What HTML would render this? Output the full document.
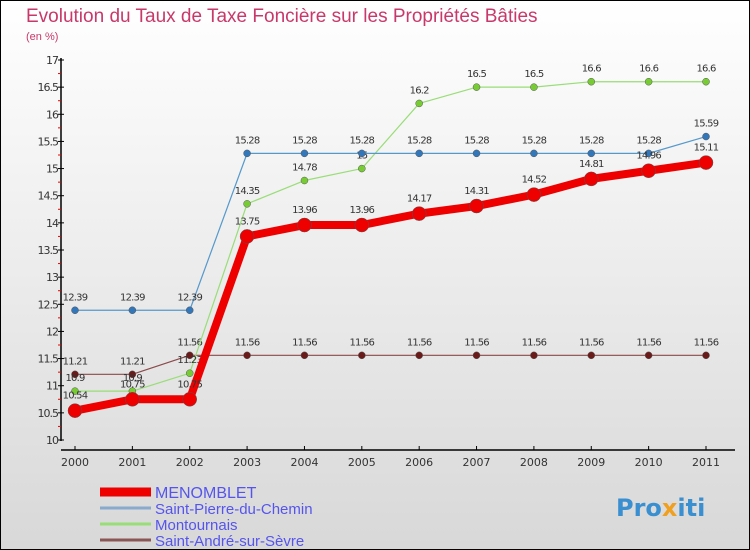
<!DOCTYPE html>
<html><head><meta charset="utf-8"><style>
body{margin:0;}
#c{width:750px;height:550px;position:relative;overflow:hidden;font-family:"DejaVu Sans","Liberation Sans",sans-serif;}
svg{display:block}
</style></head><body>
<div id="c">
<svg id="s" width="750" height="550" xmlns="http://www.w3.org/2000/svg">
<defs><linearGradient id="bg" x1="0" y1="0" x2="0" y2="1"><stop offset="0" stop-color="#ffffff"/><stop offset="1" stop-color="#d8d8d8"/></linearGradient></defs>
<rect x="0.5" y="0.5" width="749" height="549" fill="url(#bg)" stroke="#000"/>
<text x="26" y="22" font-size="19" font-family="Liberation Sans, sans-serif" fill="#c8386a">Evolution du Taux de Taxe Foncière sur les Propriétés Bâties</text>
<text x="26" y="40" font-size="11" font-family="Liberation Sans, sans-serif" fill="#c8386a">(en %)</text>
<g id="g"></g>
<text x="616" y="516" font-size="24" font-weight="bold" fill="#3a8fd0">Pro<tspan fill="#f0a020">x</tspan>iti</text>
</svg>
</div>
<script>
const years=[2000,2001,2002,2003,2004,2005,2006,2007,2008,2009,2010,2011];
const yTicks=[10,10.5,11,11.5,12,12.5,13,13.5,14,14.5,15,15.5,16,16.5,17];
const menomblet=[10.54,10.75,10.75,13.75,13.96,13.96,14.17,14.31,14.52,14.81,14.96,15.11];
const saintPierre=[12.39,12.39,12.39,15.28,15.28,15.28,15.28,15.28,15.28,15.28,15.28,15.59];
const montournais=[10.9,10.9,11.23,14.35,14.78,15,16.2,16.5,16.5,16.6,16.6,16.6];
const saintAndre=[11.21,11.21,11.56,11.56,11.56,11.56,11.56,11.56,11.56,11.56,11.56,11.56];
const seriesNames=["MENOMBLET","Saint-Pierre-du-Chemin","Montournais","Saint-André-sur-Sèvre"];
const NS="http://www.w3.org/2000/svg";
const g=document.getElementById('g');
const X=i=>75+i*(706-75)/(years.length-1);
const Y=v=>440-(v-10)*(380/7);
function el(t,a,p){const e=document.createElementNS(NS,t);for(const k in a)e.setAttribute(k,a[k]);(p||g).appendChild(e);return e;}
function fmt(v){return String(v);}
let a=el('line',{x1:61,y1:58,x2:61,y2:441,stroke:'#000','stroke-width':1.5});


a=el('line',{x1:61,y1:450,x2:735,y2:450,stroke:'#000','stroke-width':1.5});


yTicks.forEach(v=>{
  el('line',{x1:58,y1:Y(v),x2:64,y2:Y(v),stroke:'#000'});
  if(v<17) el('line',{x1:58,y1:Y(v+0.25),x2:61,y2:Y(v+0.25),stroke:'#e00'});
  const t=el('text',{x:58,y:Y(v)+4,'font-size':11,fill:'#333','text-anchor':'end','letter-spacing':'-1'});
  t.textContent=fmt(v);
  
  
});
years.forEach((y,i)=>{
  el('line',{x1:X(i),y1:446,x2:X(i),y2:450,stroke:'#000'});
  const t=el('text',{x:X(i),y:466,'font-size':11,fill:'#333','text-anchor':'middle'});
  t.textContent=y;
  
  
});
function series(data,color,dot,w,r,name,labOff){
  const pts=data.map((v,i)=>X(i)+','+Y(v)).join(' ');
  const p=el('polyline',{points:pts,fill:'none',stroke:color,'stroke-width':w,'stroke-linejoin':'round'});
  
  
  data.forEach((v,i)=>{
    const c=el('circle',{cx:X(i),cy:Y(v),r:r,fill:dot,stroke:'#555','stroke-width':0.5});
    
    
    const t=el('text',{x:X(i),y:Y(v)+labOff,'font-size':10,fill:'#333','text-anchor':'middle','letter-spacing':'-0.8'});
    t.textContent=fmt(v);
    
    
  });
}
series(saintAndre,'#8b4a4a','#6b1a1a',1.2,3.5,'saint-andre',-10);
series(montournais,'#99dd77','#77cc33',1.2,3.5,'montournais',-10);
series(saintPierre,'#5599cc','#3377bb',1.2,3.5,'saint-pierre',-10);
series(menomblet,'#ee0000','#ee0000',8,7,'menomblet',-12);
const leg=[['#ee0000',9],['#88aacc',3],['#99dd77',3],['#8b5555',3]];
seriesNames.forEach((n,i)=>{
  const y=492+i*16;
  const l=el('line',{x1:100,y1:y,x2:151,y2:y,stroke:leg[i][0],'stroke-width':leg[i][1]});
  
  
  const t=el('text',{x:155,y:y+6,'font-size':i==0?16:15,'font-family':'Liberation Sans, sans-serif',fill:'#5555ee'});
  t.textContent=n;
  
  
});
</script>
</body></html>
